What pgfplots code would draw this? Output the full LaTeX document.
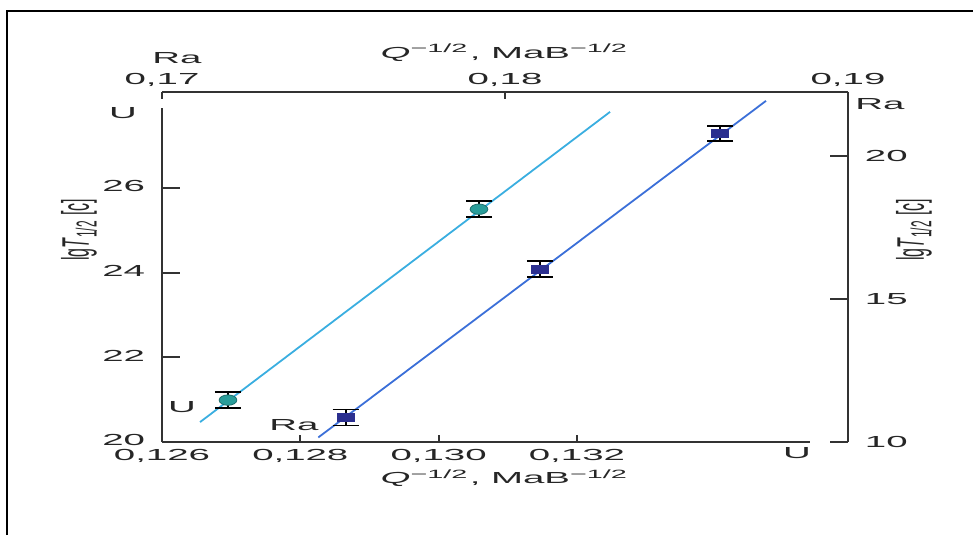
\documentclass[border=0pt]{standalone}
\usepackage{fontspec}
\setmainfont{Liberation Sans}
\usepackage{pgfplots}
\pgfplotsset{compat=1.18}
\definecolor{ulinec}{HTML}{3AAEE0}
\definecolor{ralinec}{HTML}{3B6FD8}
\definecolor{umark}{HTML}{2A9D9A}
\definecolor{ramark}{HTML}{2B2F8F}
\definecolor{axc}{HTML}{333333}
\tikzset{
  lab/.style={font=\fontsize{8}{9.6}\selectfont, text=black!85, xscale=2.4, inner sep=0pt},
  vlab/.style={font=\fontsize{8}{9.6}\selectfont, text=black!85, xscale=2.4, rotate=90, inner sep=0pt, anchor=center},
}
\pgfplotsset{
  common/.style={
    at={(81pt,46.5pt)}, anchor=south west, scale only axis,
    width=343pt, height=175pt, clip=false,
    axis line style={axc, line width=1pt, -},
    tick style={axc, line width=0.9pt},
    tick align=inside,
    every tick label/.append style={font=\fontsize{8}{9.6}\selectfont, text=black!85},
    xticklabel style={xscale=2.4},
    yticklabel style={xscale=2.4},
    xtick style={/pgfplots/major tick length=3.5pt},
    ytick style={/pgfplots/major tick length=9pt},
    label style={font=\fontsize{8}{9.6}\selectfont, text=black!85},
  },
}
\begin{document}
\begin{tikzpicture}
\useasboundingbox (0,0) rectangle (486.5pt,267.5pt);
\draw[line width=1pt] (3.5pt,262pt) -- (486.5pt,262pt);
\draw[line width=1.3pt] (3.5pt,0pt) -- (3.5pt,262.5pt);
\begin{axis}[common,
  xmin=0.126, xmax=0.13592, ymin=20, ymax=28.27,
  axis x line*=bottom, axis y line*=left,
  x axis line style={shorten >=19pt},
  y axis line style={shorten >=8pt},
  xtick={0.126,0.128,0.130,0.132},
  xticklabels={{0,126},{0,128},{0,130},{0,132}},
  ytick={20,22,24,26}, yticklabels={20,22,24,26},
  yticklabel style={yshift=0.8pt},
  xlabel={\textit{Q}\textsuperscript{−1/2}, MaB\textsuperscript{−1/2}},
  xlabel style={at={(axis description cs:0.5,-0.103)}, anchor=center, xscale=2.4},
]
\addplot[ulinec, line width=0.9pt] coordinates {(0.12655,20.47) (0.132479,27.80)};
\addplot[only marks, mark=*, mark size=2.6pt,
  mark options={fill=umark, draw=umark!70!black, xscale=1.7},
  error bars/.cd, y dir=both, y explicit,
  error bar style={black, line width=0.8pt},
  error mark options={rotate=90, mark size=6.5pt, line width=0.8pt, black}]
  coordinates {(0.126954,20.99) +- (0,0.19) (0.130584,25.50) +- (0,0.19)};
\node[lab] at (axis description cs:0.0292,0.0986) {U};
\node[lab] at (axis description cs:-0.0569,0.94) {U};
\node[lab] at (axis description cs:0.9257,-0.0314) {U};
\node[vlab] at (axis description cs:-0.1210,0.606) {lg\textit{T}\textsubscript{1/2} [c]};
\end{axis}
\begin{axis}[common,
  xmin=0.17, xmax=0.19, ymin=10, ymax=22.24,
  axis x line*=top, axis y line*=right,
  xtick={0.17,0.18,0.19}, xticklabels={{0,17},{0,18},{0,19}},
  xticklabel style={yshift=-1pt},
  ytick={10,15,20}, yticklabels={10,15,20},
  xlabel={\textit{Q}\textsuperscript{−1/2}, MaB\textsuperscript{−1/2}},
  xlabel style={at={(axis description cs:0.5,1.1115)}, anchor=center, xscale=2.4},
]
\addplot[ralinec, line width=0.9pt] coordinates {(0.174557,10.16) (0.187609,21.93)};
\addplot[only marks, mark=square*, mark size=2.1pt,
  mark options={fill=ramark, draw=ramark, xscale=2.0},
  error bars/.cd, y dir=both, y explicit,
  error bar style={black, line width=0.8pt},
  error mark options={rotate=90, mark size=6.5pt, line width=0.8pt, black}]
  coordinates {(0.175356,10.86) +- (0,0.28) (0.18102,16.04) +- (0,0.28) (0.18627,20.79) +- (0,0.27)};
\node[lab] at (axis description cs:0.1924,0.0486) {Ra};
\node[lab] at (axis description cs:0.0219,1.097) {Ra};
\node[lab] at (axis description cs:1.0466,0.9657) {Ra};
\node[vlab] at (axis description cs:1.096,0.606) {lg\textit{T}\textsubscript{1/2} [c]};
\end{axis}
\end{tikzpicture}
\end{document}
